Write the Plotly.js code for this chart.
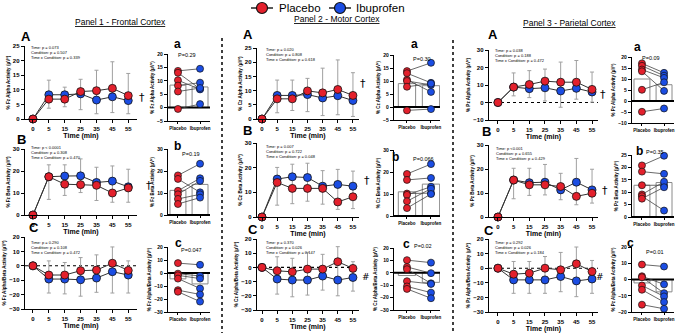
<!DOCTYPE html>
<html><head><meta charset="utf-8">
<script src="https://cdn.plot.ly/plotly-3.0.1.min.js"></script>
<style>html,body{margin:0;padding:0;background:#fff}#chart{width:677px;height:333px}</style>
</head><body><div id="chart"></div>
<script>
// ---------------- DATA ----------------
const times = ['0','5','15','25','35','45','55'];
const groups = ['Placebo','Ibuprofen'];

// Panel 1 - Frontal cortex (Fz)
const fzAlphaPlacebo   = [0, 6.8, 6.8, 9.4, 9.7, 10.5, 8.0];
const fzAlphaIbuprofen = [0, 8.3, 8.3, 8.6, 6.5, 7.6, 6.3];
const fzAlphaUpper     = [null, 13.3, 10.9, 13.6, 16.7, 19.6, 15.6];
const fzAlphaLower     = [null, 3.7, 4.2, 3.2, 1.8, 2.2, 1.8];
const fzBetaPlacebo    = [0, 17.4, 14.0, 13.8, 13.5, 10.0, 12.3];
const fzBetaIbuprofen  = [0, 17.4, 17.7, 17.8, 14.8, 15.4, 12.8];
const fzBetaUpper      = [null, 22.8, 22.8, 25.5, 21.7, 22.3, 20.8];
const fzBetaLower      = [null, 7.1, 8.9, 10.2, 6.6, 5.8, 5.8];
const fzRatioPlacebo   = [0, -6.4, -6.4, -3.4, -3.0, 1.8, -3.2];
const fzRatioIbuprofen = [0, -9.2, -9.2, -9.7, -8.5, -4.1, -6.4];
const fzRatioUpper     = [null, 3.4, 2.3, 5.7, 7.6, 13.1, 3.4];
const fzRatioLower     = [null, -18.9, -19.5, -21.1, -18.4, -18.9, -18.9];

const fzAlphaPostPlacebo   = [13.7, 13.0, 10.2, 8.2, 6.0, -0.5];
const fzAlphaPostIbuprofen = [14.5, 7.0, 6.8, 9.3, 7.3, 1.3];
const fzAlphaPostMeans     = [8.4, 7.7];
const fzBetaPostPlacebo    = [18.0, 16.4, 11.0, 9.4, 7.3, 5.0];
const fzBetaPostIbuprofen  = [23.3, 10.3, 16.7, 15.5, 9.4, 7.9];
const fzBetaPostMeans      = [11.2, 13.9];
const fzRatioPostPlacebo   = [7.6, -0.5, -1.8, -4.3, -13.2, -14.4];
const fzRatioPostIbuprofen = [6.3, -2.3, -4.3, -11.9, -16.5, -22.0];
const fzRatioPostMeans     = [-4.5, -8.4];

// Panel 2 - Motor cortex (Cz)
const czAlphaPlacebo   = [0, 7.1, 7.1, 9.9, 9.2, 10.4, 8.3];
const czAlphaIbuprofen = [0, 8.3, 8.3, 8.6, 7.4, 8.2, 6.5];
const czAlphaUpper     = [null, 13.7, 13.7, 14.3, 17.9, 20.8, 16.3];
const czAlphaLower     = [null, 2.2, 3.0, 2.6, 1.2, 1.5, 0.9];
const czBetaPlacebo    = [0, 14.0, 11.6, 11.6, 11.6, 6.1, 8.2];
const czBetaIbuprofen  = [0, 15.4, 16.3, 16.0, 12.5, 13.2, 12.5];
const czBetaUpper      = [null, 20.1, 21.4, 21.8, 18.8, 19.3, 18.6];
const czBetaLower      = [null, 4.8, 5.4, 6.4, 5.2, 3.1, 3.4];
const czRatioPlacebo   = [0, -2.4, -3.1, -1.2, -1.2, 4.0, -0.7];
const czRatioIbuprofen = [0, -8.2, -8.9, -8.9, -6.1, -8.9, -7.1];
const czRatioUpper     = [null, 7.5, 6.4, 10.6, 9.2, 14.6, 4.0];
const czRatioLower     = [null, -18.8, -20.7, -19.5, -16.0, -20.0, -16.7];

const czAlphaPostPlacebo   = [13.8, 13.0, 10.5, 10.0, 7.8, -1.3];
const czAlphaPostIbuprofen = [17.0, 9.3, 5.8, 8.5, 9.0, -0.8];
const czAlphaPostMeans     = [9.0, 8.2];
const czBetaPostPlacebo    = [19.1, 16.4, 10.2, 9.6, 6.7, 3.6];
const czBetaPostIbuprofen  = [23.6, 17.3, 10.4, 13.3, 12.4, 10.0];
const czBetaPostMeans      = [11.0, 14.5];
const czRatioPostPlacebo   = [10.2, 4.7, 2.9, -6.8, -11.0, -13.0];
const czRatioPostIbuprofen = [8.2, -0.3, -8.5, -9.0, -16.0, -20.5];
const czRatioPostMeans     = [-2.2, -7.7];

// Panel 3 - Parietal cortex (Pz)
const pzAlphaPlacebo   = [0, 8.8, 10.3, 12.2, 11.6, 11.6, 7.5];
const pzAlphaIbuprofen = [0, 8.8, 7.9, 8.4, 6.6, 8.1, 6.0];
const pzAlphaUpper     = [null, 16.9, 18.2, 19.1, 23.1, 24.0, 17.4];
const pzAlphaLower     = [null, 3.8, 2.8, 0.9, -2.7, 1.9, 0.2];
const pzBetaPlacebo    = [0, 15.4, 13.4, 13.4, 12.7, 8.6, 9.9];
const pzBetaIbuprofen  = [0, 15.4, 14.3, 14.5, 11.3, 14.5, 11.3];
const pzBetaUpper      = [null, 20.3, 20.3, 21.9, 18.2, 24.4, 19.9];
const pzBetaLower      = [null, 7.6, 9.0, 9.2, 7.2, 5.1, 5.8];
const pzRatioPlacebo   = [0, -4.1, -3.4, 0, -1.1, 3.0, -2.3];
const pzRatioIbuprofen = [0, -8.0, -8.0, -8.0, -5.7, -8.7, -7.4];
const pzRatioUpper     = [null, 4.6, 4.6, 8.0, 10.8, 14.5, 5.3];
const pzRatioLower     = [null, -17.2, -17.2, -17.2, -16.1, -19.5, -17.2];

const pzAlphaPostPlacebo   = [17.1, 16.0, 14.3, 13.5, 5.1, -4.9];
const pzAlphaPostIbuprofen = [12.8, 11.5, 10.5, 4.6, 8.5, -3.4];
const pzAlphaPostMeans     = [10.0, 7.4];
const pzBetaPostPlacebo    = [20.8, 18.3, 12.8, 9.1, 8.4, 7.4];
const pzBetaPostIbuprofen  = [24.7, 17.4, 12.8, 14.2, 2.6, 12.0];
const pzBetaPostMeans      = [12.8, 13.9];
const pzRatioPostPlacebo   = [9.2, 2.0, 1.4, -3.7, -6.3, -15.5];
const pzRatioPostIbuprofen = [8.0, -3.0, -8.4, -10.4, -13.9, -18.0];
const pzRatioPostMeans     = [-2.1, -7.6];

// Text
const panelTitles = ['Panel 1 - Frontal Cortex', 'Panel 2 - Motor Cortex', 'Panel 3 - Parietal Cortex'];
const sites = ['Fz', 'Cz', 'Pz'];
const measures = ['Alpha', 'Beta', 'Alpha/Beta'];
const stats = [
  [['Time: p = 0.073','Condition: p = 0.507','Time x Condition: p = 0.339'],
   ['Time: p < 0.0001','Condition: p = 0.308','Time x Condition: p = 0.470'],
   ['Time: p = 0.290','Condition: p = 0.108','Time x Condition: p = 0.472']],
  [['Time: p = 0.020','Condition: p = 0.808','Time x Condition: p = 0.618'],
   ['Time: p = 0.007','Condition: p = 0.722','Time x Condition: p = 0.048'],
   ['Time: p = 0.370','Condition: p = 0.026','Time x Condition: p = 0.147']],
  [['Time: p = 0.038','Condition: p = 0.188','Time x Condition: p = 0.472'],
   ['Time: p <0.001','Condition: p = 0.655','Time x Condition: p = 0.429'],
   ['Time: p = 0.292','Condition: p = 0.026','Time x Condition: p = 0.184']]
];
const pValues = [['P=0.29','P=0.19','P=0.047'],['P=0.30','P=0.066','P=0.02'],['P=0.09','P=0.35','P=0.01']];
const marks = [['†','†',''],['†','†','#'],['†','†','#']];

const lineData = [
  [[fzAlphaPlacebo,fzAlphaIbuprofen,fzAlphaUpper,fzAlphaLower],[fzBetaPlacebo,fzBetaIbuprofen,fzBetaUpper,fzBetaLower],[fzRatioPlacebo,fzRatioIbuprofen,fzRatioUpper,fzRatioLower]],
  [[czAlphaPlacebo,czAlphaIbuprofen,czAlphaUpper,czAlphaLower],[czBetaPlacebo,czBetaIbuprofen,czBetaUpper,czBetaLower],[czRatioPlacebo,czRatioIbuprofen,czRatioUpper,czRatioLower]],
  [[pzAlphaPlacebo,pzAlphaIbuprofen,pzAlphaUpper,pzAlphaLower],[pzBetaPlacebo,pzBetaIbuprofen,pzBetaUpper,pzBetaLower],[pzRatioPlacebo,pzRatioIbuprofen,pzRatioUpper,pzRatioLower]]
];
const dotData = [
  [[fzAlphaPostPlacebo,fzAlphaPostIbuprofen,fzAlphaPostMeans],[fzBetaPostPlacebo,fzBetaPostIbuprofen,fzBetaPostMeans],[fzRatioPostPlacebo,fzRatioPostIbuprofen,fzRatioPostMeans]],
  [[czAlphaPostPlacebo,czAlphaPostIbuprofen,czAlphaPostMeans],[czBetaPostPlacebo,czBetaPostIbuprofen,czBetaPostMeans],[czRatioPostPlacebo,czRatioPostIbuprofen,czRatioPostMeans]],
  [[pzAlphaPostPlacebo,pzAlphaPostIbuprofen,pzAlphaPostMeans],[pzBetaPostPlacebo,pzBetaPostIbuprofen,pzBetaPostMeans],[pzRatioPostPlacebo,pzRatioPostIbuprofen,pzRatioPostMeans]]
];

// ---------------- LAYOUT POSITIONS (pixels) ----------------
const W = 677, H = 333;
const fx = p => p / W, fy = p => 1 - p / H;
const POS = [
  { lx:[25,137], lxr:[-0.5,6.55], dx:[168,210], dxr:[-0.45,1.45],
    ly:[[46,119],[149,215],[237,309]], dy:[[54,121],[149,215],[247,312]],
    lyr:[[0,25,5],[0,30,10],[-30,20,10]], dyr:[[-5,20,5],[0,30,10],[-30,20,10]],
    dotted:[false,false,true],
    L:[[26,36],[22,139],[34,227]], l:[[177,44],[177,146],[178,243]],
    P:[[187,55.5],[191,153.5],[191,250]], S:[[29,43],[29,143],[29,238]],
    M:[[142,97],[149,186],[0,0]], title:[120,22] },
  { lx:[257,359], lxr:[-0.33,6.4], dx:[394,440], dxr:[-0.54,1.375],
    ly:[[48,119],[143,217],[239,310]], dy:[[55,120],[150,216],[248,310]],
    lyr:[[0,25,5],[0,30,10],[-30,20,10]], dyr:[[-5,20,5],[0,30,10],[-30,20,10]],
    dotted:[false,false,true],
    L:[[248,35],[248,130],[253,229]], l:[[414,44],[396,157],[406,244]],
    P:[[421.5,59],[424,159.5],[422.5,245.5]], S:[[264,45],[264,142],[264,238]],
    M:[[363,84],[367,180],[366,276.5]], title:[337,19] },
  { lx:[489,598], lxr:[-0.57,6.38], dx:[632,674], dxr:[-0.45,1.45],
    ly:[[50,120],[145,217],[239,312]], dy:[[57,123],[155,217],[247,312]],
    lyr:[[-10,30,10],[0,30,10],[-30,20,10]], dyr:[[-10,20,5],[0,25,5],[-20,20,10]],
    dotted:[true,false,true],
    L:[[493,35],[486,131],[489,230]], l:[[637,47],[639,151],[630,243]],
    P:[[650.5,58.5],[654.5,151.5],[654.5,251.5]], S:[[493,46],[494,144],[493,238]],
    M:[[603,94],[605,190],[600,276.5]], title:[569,23] }
];
const LEG = [{x:262, tx:277, color:'#e3202c', label:groups[0]}, {x:340, tx:354, color:'#1b4de3', label:groups[1]}];
const LEGY = 8;

const RED = '#e3202c', BLUE = '#1b4de3';
const FONT = 'Liberation Sans, Arial, sans-serif';
const traces = [], annotations = [], shapes = [];
const layout = {
  width: W, height: H, margin: {l:0, r:0, t:0, b:0},
  paper_bgcolor: '#fff', plot_bgcolor: 'rgba(0,0,0,0)',
  font: {family: FONT, color: '#000'},
  showlegend: false,
};
const baseAxis = {showline:true, linecolor:'#000', linewidth:1.3, ticks:'outside', ticklen:3,
  tickwidth:1, tickcolor:'#000', showgrid:false, zeroline:false, fixedrange:true};

let k = 0;
const sfx = n => (n === 1 ? '' : String(n));
for (let p = 0; p < 3; p++) {
  const c = POS[p];
  annotations.push({xref:'paper', yref:'paper', x:fx(c.title[0]), y:fy(c.title[1]), xanchor:'center', yanchor:'middle',
    text:'<u>'+panelTitles[p]+'</u>', showarrow:false, font:{size:8.5, family:FONT}});
  for (let r = 0; r < 3; r++) {
    // ---- line (time-course) subplot ----
    k++;
    const [pl, ib, hi, lo] = lineData[p][r];
    const xa = 'x'+sfx(k), ya = 'y'+sfx(k);
    traces.push({x: times, y: hi, xaxis: xa, yaxis: ya, mode:'markers', marker:{opacity:0, size:1},
      hoverinfo:'skip', cliponaxis:false,
      error_y:{type:'data', symmetric:false, array: hi.map(v => v == null ? null : 0),
        arrayminus: hi.map((v,i) => v == null ? null : v - lo[i]), color:'#a0a0a0', thickness:1, width:2}});
    traces.push({x: times, y: ib, xaxis: xa, yaxis: ya, mode:'lines+markers', name:groups[1],
      cliponaxis:false, line:{color:'#333', width:1},
      marker:{size:8, color:BLUE, line:{color:'#111', width:0.8}}});
    traces.push({x: times, y: pl, xaxis: xa, yaxis: ya, mode:'lines+markers', name:groups[0],
      cliponaxis:false, line:{color:'#333', width:1},
      marker:{size:8, color:RED, line:{color:'#111', width:0.8}}});
    const yt = '% '+sites[p]+' '+measures[r]+' Activity (μV²)';
    layout['xaxis'+sfx(k)] = Object.assign({}, baseAxis, {domain:[fx(c.lx[0]), fx(c.lx[1])], anchor: ya,
      type:'category', categoryorder:'array', categoryarray: times, range: c.lxr,
      tickfont:{size:6, family:FONT, weight:'bold'},
      title:{text:'Time (min)', font:{size:7, family:FONT, weight:'bold'}, standoff:2}});
    layout['yaxis'+sfx(k)] = Object.assign({}, baseAxis, {domain:[fy(c.ly[r][1]), fy(c.ly[r][0])], anchor: xa,
      range:[c.lyr[r][0], c.lyr[r][1]], tick0:0, dtick:c.lyr[r][2],
      tickfont:{size:6, family:FONT, weight:'bold'},
      title:{text: yt, font:{size:4.6, family:FONT, weight:'bold'}, standoff:2}});
    if (c.dotted[r]) shapes.push({type:'line', xref: xa+' domain', yref: ya, x0:0, x1:1, y0:0, y1:0,
      line:{color:'#000', width:1.1, dash:'dot'}, layer:'below'});
    annotations.push({xref:'paper', yref:'paper', x:fx(c.L[r][0]), y:fy(c.L[r][1]), xanchor:'center', yanchor:'middle',
      text:['A','B','C'][r], showarrow:false, font:{size:13, family:FONT, weight:'bold'}});
    annotations.push({xref:'paper', yref:'paper', x:fx(c.S[r][0]), y:fy(c.S[r][1]), xanchor:'left', yanchor:'top', align:'left',
      text: stats[p][r].join('<br>'), showarrow:false, font:{size:4, family:FONT}});
    if (marks[p][r]) annotations.push({xref:'paper', yref:'paper', x:fx(c.M[r][0]), y:fy(c.M[r][1]), xanchor:'center', yanchor:'middle',
      text: marks[p][r], showarrow:false, font:{size: marks[p][r]==='#' ? 9 : 11, family:'DejaVu Sans, sans-serif', color:'#000'}});

    // ---- dot / bar subplot ----
    k++;
    const [dpl, dib, means] = dotData[p][r];
    const xb = 'x'+sfx(k), yb = 'y'+sfx(k);
    const gi = groups.map((g, i) => i);               // category index positions
    traces.push({type:'bar', x: gi, y: means, xaxis: xb, yaxis: yb, width:0.72, hoverinfo:'skip',
      marker:{color:'#fff', line:{color:'#8a8a8a', width:1}}});
    // zero reference line (drawn over bars, under points)
    traces.push({x: c.dxr, y: [0, 0], xaxis: xb, yaxis: yb, mode:'lines', line:{color:'#000', width:2}, hoverinfo:'skip'});
    const px = [], py = [];
    dpl.forEach((v,i) => { px.push(gi[0], gi[1], null); py.push(v, dib[i], null); });
    traces.push({x: px, y: py, xaxis: xb, yaxis: yb, mode:'lines', line:{color:'#444', width:0.8},
      hoverinfo:'skip', connectgaps:false});
    traces.push({x: dpl.map(() => gi[0]), y: dpl, xaxis: xb, yaxis: yb, mode:'markers', cliponaxis:false,
      marker:{size:7, color:RED, line:{color:'#111', width:0.7}}});
    traces.push({x: dib.map(() => gi[1]), y: dib, xaxis: xb, yaxis: yb, mode:'markers', cliponaxis:false,
      marker:{size:7, color:BLUE, line:{color:'#111', width:0.7}}});
    layout['xaxis'+sfx(k)] = Object.assign({}, baseAxis, {domain:[fx(c.dx[0]), fx(c.dx[1])], anchor: yb,
      type:'linear', range: c.dxr, tickmode:'array', tickvals: gi, ticktext: groups, ticklen:2,
      tickfont:{size:4.5, family:FONT, weight:'bold'}});
    layout['yaxis'+sfx(k)] = Object.assign({}, baseAxis, {domain:[fy(c.dy[r][1]), fy(c.dy[r][0])], anchor: xb,
      range:[c.dyr[r][0], c.dyr[r][1]], tick0:0, dtick:c.dyr[r][2],
      tickfont:{size:5, family:FONT, weight:'bold'},
      title:{text: yt, font:{size:4.5, family:FONT, weight:'bold'}, standoff:2}});
    annotations.push({xref:'paper', yref:'paper', x:fx(c.l[r][0]), y:fy(c.l[r][1]), xanchor:'center', yanchor:'middle',
      text:['a','b','c'][r], showarrow:false, font:{size:12, family:FONT, weight:'bold'}});
    annotations.push({xref:'paper', yref:'paper', x:fx(c.P[r][0]), y:fy(c.P[r][1]), xanchor:'center', yanchor:'middle',
      text: pValues[p][r], showarrow:false, font:{size:5.5, family:FONT}});
  }
}
// dotted separators
shapes.push({type:'line', xref:'paper', yref:'paper', x0:fx(222), x1:fx(222), y0:fy(38), y1:fy(333), line:{color:'#000', width:1.5, dash:'dot'}});
shapes.push({type:'line', xref:'paper', yref:'paper', x0:fx(453), x1:fx(453), y0:fy(40), y1:fy(333), line:{color:'#000', width:1.5, dash:'dot'}});
// legend (drawn manually)
LEG.forEach(e => {
  shapes.push({type:'line', xref:'paper', yref:'paper', x0:fx(e.x-11), x1:fx(e.x+11), y0:fy(LEGY), y1:fy(LEGY), line:{color:'#222', width:1.5}});
  shapes.push({type:'circle', xref:'paper', yref:'paper', x0:fx(e.x-5.5), x1:fx(e.x+5.5), y0:fy(LEGY+5.5), y1:fy(LEGY-5.5),
    fillcolor:e.color, line:{color:'#111', width:1.2}});
  annotations.push({xref:'paper', yref:'paper', x:fx(e.tx), y:fy(LEGY), xanchor:'left', yanchor:'middle',
    text:e.label, showarrow:false, font:{size:11.5, family:FONT}});
});
layout.annotations = annotations;
layout.shapes = shapes;
traces.forEach(t => { t.showlegend = false; });
Plotly.newPlot('chart', traces, layout, {displayModeBar:false, staticPlot:true});
</script></body></html>
